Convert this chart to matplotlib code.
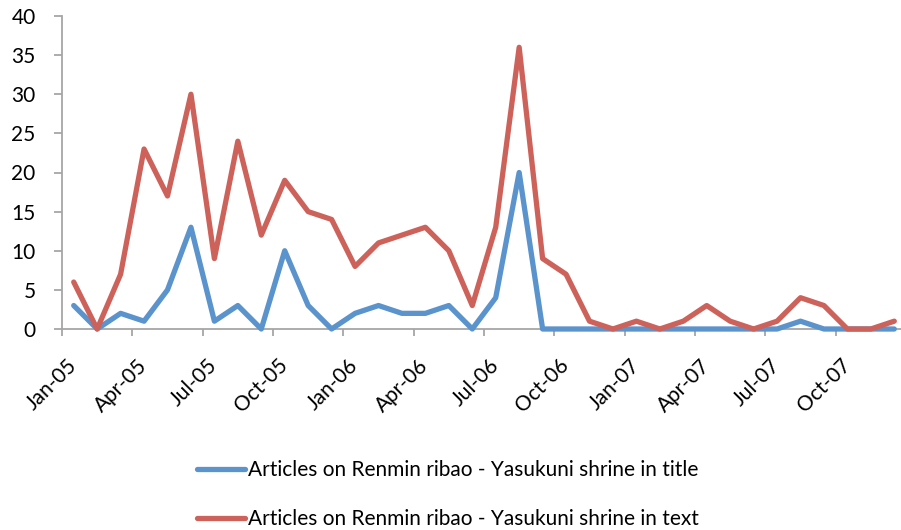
import matplotlib
matplotlib.use("Agg")
import matplotlib.pyplot as plt

months = ["Jan-05", "Feb-05", "Mar-05", "Apr-05", "May-05", "Jun-05", "Jul-05", "Aug-05", "Sep-05",
          "Oct-05", "Nov-05", "Dec-05", "Jan-06", "Feb-06", "Mar-06", "Apr-06", "May-06", "Jun-06",
          "Jul-06", "Aug-06", "Sep-06", "Oct-06", "Nov-06", "Dec-06", "Jan-07", "Feb-07", "Mar-07",
          "Apr-07", "May-07", "Jun-07", "Jul-07", "Aug-07", "Sep-07", "Oct-07", "Nov-07", "Dec-07"]
in_title = [3, 0, 2, 1, 5, 13, 1, 3, 0, 10, 3, 0, 2, 3, 2, 2, 3, 0,
            4, 20, 0, 0, 0, 0, 0, 0, 0, 0, 0, 0, 0, 1, 0, 0, 0, 0]
in_text = [6, 0, 7, 23, 17, 30, 9, 24, 12, 19, 15, 14, 8, 11, 12, 13, 10, 3,
           13, 36, 9, 7, 1, 0, 1, 0, 1, 3, 1, 0, 1, 4, 3, 0, 0, 1]
label_title = "Articles on Renmin ribao - Yasukuni shrine in title"
label_text = "Articles on Renmin ribao - Yasukuni shrine in text"
yticks = [0, 5, 10, 15, 20, 25, 30, 35, 40]

FONT = "Lato"
plt.rcParams['font.family'] = [FONT, 'DejaVu Sans']
fs = 15

W, H = 901, 530
fig = plt.figure(figsize=(W / 100, H / 100), dpi=100)
ax = fig.add_axes([62 / W, 1 - 329 / H, (906 - 62) / W, (329 - 16) / H])

x = list(range(len(months)))
blue = "#5B93CC"
red = "#CD625B"
ax.plot(x, in_title, color=blue, lw=3.8, solid_joinstyle='round', solid_capstyle='round',
        label=label_title, clip_on=False, zorder=3)
ax.plot(x, in_text, color=red, lw=3.8, solid_joinstyle='round', solid_capstyle='round',
        label=label_text, clip_on=False, zorder=3)

ax.set_xlim(-0.5, len(months) - 0.5)
ax.set_ylim(0, 40)
for s in ['top', 'right']:
    ax.spines[s].set_visible(False)
for s in ['left', 'bottom']:
    ax.spines[s].set_color('#A6A6A6')
    ax.spines[s].set_linewidth(1.3)

ax.set_yticks(yticks)
ax.set_yticklabels([str(v) for v in yticks], fontsize=fs)
ax.tick_params(axis='y', direction='out', length=6, width=1.3, color='#A6A6A6', pad=13)

# boundary tick marks every 3 categories, labels at category centres
ax.set_xticks([i - 0.5 for i in range(0, len(months), 3)], minor=False)
ax.set_xticklabels([])
ax.tick_params(axis='x', which='major', direction='out', length=5, width=1.3, color='#A6A6A6')
ax.set_xticks(list(range(0, len(months), 3)), minor=True)
ax.set_xticklabels([months[i] for i in range(0, len(months), 3)], minor=True,
                   rotation=45, ha='right', va='center', rotation_mode='anchor', fontsize=fs)
ax.tick_params(axis='x', which='minor', length=0, pad=24)

leg = fig.legend(loc='center left', bbox_to_anchor=(197 / W, 1 - 494.5 / H), frameon=False,
                 fontsize=fs, handlelength=48 / (fs * 100 / 72), handletextpad=0.12,
                 labelspacing=1.4, borderpad=0, borderaxespad=0)

fig.savefig("out.png", dpi=100)
